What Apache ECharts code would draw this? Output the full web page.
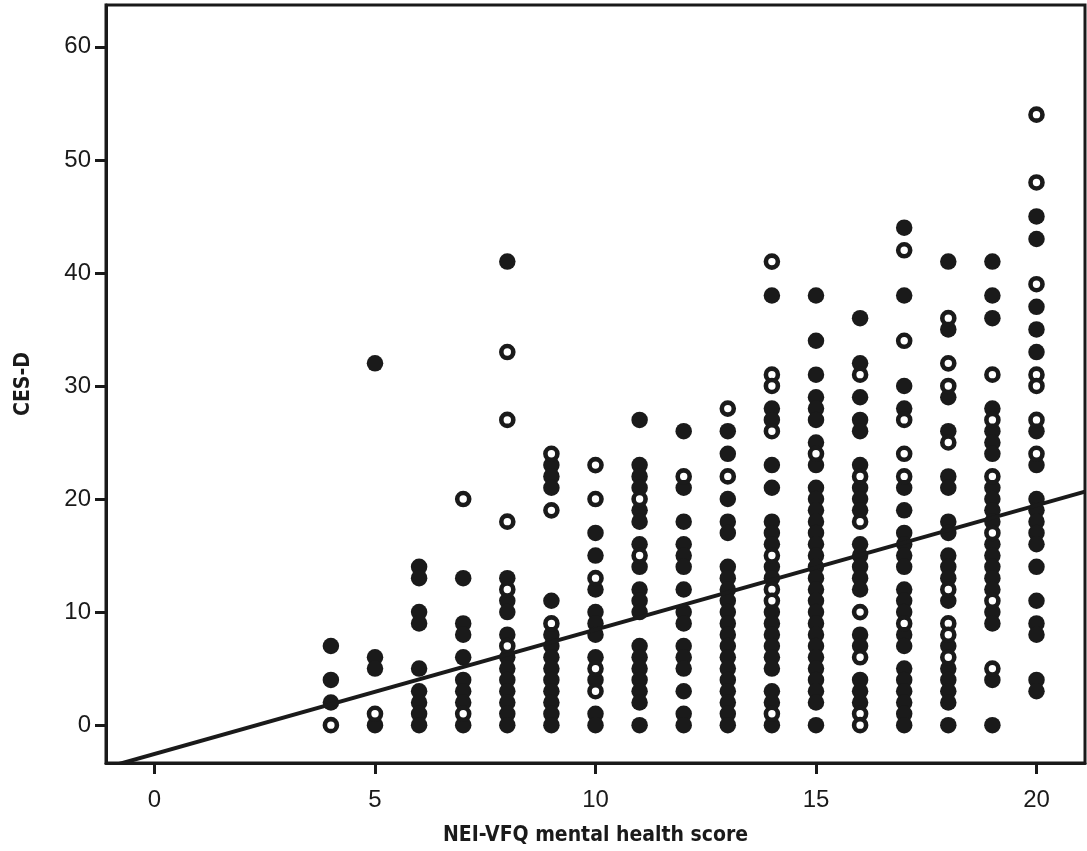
<!DOCTYPE html>
<html>
<head>
<meta charset="utf-8">
<script src="https://cdn.jsdelivr.net/npm/echarts@6/dist/echarts.min.js"></script>
<style>
  html, body { margin: 0; padding: 0; background: #fff; }
  #chart { width: 1087px; height: 851px; }
</style>
</head>
<body>
<div id="chart"></div>
<script>
// NEI-VFQ mental health score (x) vs CES-D (y)
var scores = [4, 5, 6, 7, 8, 9, 10, 11, 12, 13, 14, 15, 16, 17, 18, 19, 20];

// filled circles, one list per score column
var filledCes = [
  [7, 4, 2],
  [32, 6, 5, 0],
  [14, 13, 10, 9, 5, 3, 2, 1, 0],
  [13, 9, 8, 6, 4, 3, 2, 0],
  [41, 13, 11, 10, 8, 6, 5, 4, 3, 2, 1, 0],
  [23, 22, 21, 11, 8, 7, 6, 5, 4, 3, 2, 1, 0],
  [17, 15, 12, 10, 9, 8, 6, 4, 1, 0],
  [27, 23, 22, 21, 19, 18, 16, 14, 12, 11, 10, 7, 6, 5, 4, 3, 2, 0],
  [26, 21, 18, 16, 15, 14, 12, 10, 9, 7, 6, 5, 3, 1, 0],
  [26, 24, 20, 18, 17, 14, 13, 12, 11, 10, 9, 8, 7, 6, 5, 4, 3, 2, 1, 0],
  [38, 28, 27, 23, 21, 18, 17, 16, 14, 13, 10, 9, 8, 7, 6, 5, 3, 2, 0],
  [38, 34, 31, 29, 28, 27, 25, 23, 21, 20, 19, 18, 17, 16, 15, 14, 13, 12, 11, 10, 9, 8, 7, 6, 5, 4, 3, 2, 0],
  [36, 32, 29, 27, 26, 23, 21, 20, 19, 16, 15, 14, 13, 12, 8, 7, 4, 3, 2],
  [44, 38, 30, 28, 21, 19, 17, 16, 15, 14, 12, 11, 10, 8, 7, 5, 4, 3, 2, 1, 0],
  [41, 35, 29, 26, 22, 21, 18, 17, 15, 14, 13, 11, 7, 5, 4, 3, 2, 0],
  [41, 38, 36, 28, 26, 25, 24, 21, 20, 19, 18, 16, 15, 14, 13, 12, 10, 9, 4, 0],
  [45, 43, 37, 35, 33, 26, 23, 20, 19, 18, 17, 16, 14, 11, 9, 8, 4, 3]
];

// open circles, one list per score column
var openCes = [
  [0],
  [1],
  [],
  [20, 1],
  [33, 27, 18, 12, 7],
  [24, 19, 9],
  [23, 20, 13, 5, 3],
  [20, 15],
  [22],
  [28, 22],
  [41, 31, 30, 26, 15, 12, 11, 1],
  [24],
  [31, 22, 18, 10, 6, 1, 0],
  [42, 34, 27, 24, 22, 9],
  [36, 32, 30, 25, 12, 9, 8, 6],
  [31, 27, 22, 17, 11, 5],
  [54, 48, 39, 31, 30, 27, 24]
];

// fitted line
var fitIntercept = -2.55;
var fitSlope = 1.1;

var xTicks = [0, 5, 10, 15, 20];
var yTicks = [0, 10, 20, 30, 40, 50, 60];
var xMin = -1.1, xMax = 21.1;
var yMin = -3.35, yMax = 63.7;

function toPoints(lists) {
  var out = [];
  scores.forEach(function (s, i) {
    lists[i].forEach(function (v) { out.push([s, v]); });
  });
  return out;
}

var ink = '#1a1a1a';
var titleFont = "'Liberation Sans Narrow', 'DejaVu Sans Condensed', sans-serif";
var chart = echarts.init(document.getElementById('chart'));
chart.setOption({
  animation: false,
  backgroundColor: '#fff',
  grid: {
    left: 106, right: 2, top: 5, bottom: 86,
    show: true, borderColor: ink, borderWidth: 3
  },
  xAxis: {
    type: 'value',
    min: xMin, max: xMax,
    name: 'NEI-VFQ mental health score',
    nameLocation: 'middle',
    nameGap: 62,
    nameTextStyle: { fontFamily: titleFont, fontWeight: 'bold', fontSize: 21, color: ink },
    axisLine: { show: true, onZero: false, lineStyle: { color: ink, width: 3 } },
    axisTick: { show: true, customValues: xTicks, length: 11, lineStyle: { color: ink, width: 3 } },
    axisLabel: { customValues: xTicks, margin: 25, fontFamily: 'Liberation Sans', fontSize: 24, color: ink },
    splitLine: { show: false }
  },
  yAxis: {
    type: 'value',
    min: yMin, max: yMax,
    name: 'CES-D',
    nameLocation: 'middle',
    nameGap: 72,
    nameTextStyle: { fontFamily: titleFont, fontWeight: 'bold', fontSize: 21, color: ink },
    axisLine: { show: true, onZero: false, lineStyle: { color: ink, width: 3 } },
    axisTick: { show: true, customValues: yTicks, length: 11, lineStyle: { color: ink, width: 3 } },
    axisLabel: { customValues: yTicks, margin: 15, fontFamily: 'Liberation Sans', fontSize: 24, color: ink },
    splitLine: { show: false }
  },
  series: [
    {
      type: 'scatter',
      data: toPoints(filledCes),
      symbol: 'circle',
      symbolSize: 16.5,
      itemStyle: { color: ink, opacity: 1 },
      z: 2
    },
    {
      type: 'scatter',
      data: toPoints(openCes),
      symbol: 'circle',
      symbolSize: 12,
      itemStyle: { color: '#fff', borderColor: ink, borderWidth: 4.6, opacity: 1 },
      z: 3
    },
    {
      type: 'line',
      data: [[xMin, fitIntercept + fitSlope * xMin], [xMax, fitIntercept + fitSlope * xMax]],
      symbol: 'none',
      clip: true,
      lineStyle: { color: ink, width: 4 },
      z: 4
    }
  ]
});
</script>
</body>
</html>
